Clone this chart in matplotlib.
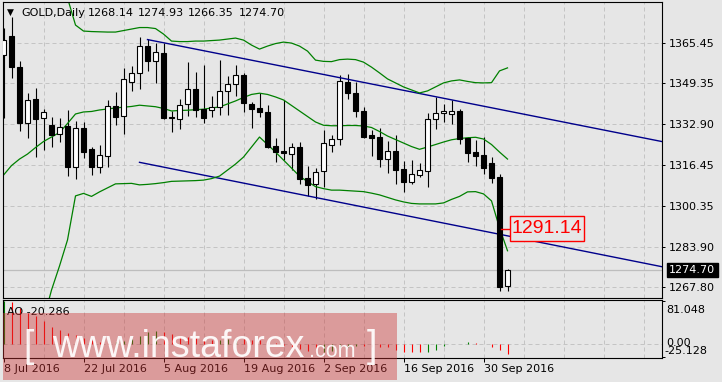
import numpy as np
import matplotlib
matplotlib.use('Agg')
import matplotlib.pyplot as plt
from matplotlib import font_manager
from matplotlib.patches import Rectangle
from matplotlib.transforms import blended_transform_factory

# ---------------- data ----------------
opens = [1360.5, 1368.1, 1355.6, 1333.5, 1342.9, 1335.5, 1332.6, 1328.9, 1332.2, 1315.9,
         1331.4, 1323.0, 1315.7, 1320.1, 1340.1, 1336.2, 1349.9, 1353.5, 1364.1, 1358.3,
         1361.5, 1335.8, 1335.1, 1340.9, 1346.9, 1338.9, 1338.6, 1339.7, 1346.1, 1349.0,
         1352.6, 1341.0, 1339.4, 1337.8, 1324.2, 1322.3, 1320.9, 1323.7, 1311.4, 1309.0,
         1314.1, 1324.5, 1326.9, 1349.8, 1345.4, 1338.2, 1328.5, 1327.7, 1319.1, 1322.2,
         1315.0, 1310.0, 1312.8, 1314.4, 1335.1, 1337.3, 1337.1, 1338.2, 1327.3, 1321.9,
         1320.6, 1317.4, 1311.8, 1268.14]
highs = [1371.3, 1375.8, 1358.1, 1345.5, 1347.3, 1339.0, 1335.7, 1335.3, 1338.6, 1334.3,
         1333.9, 1323.9, 1324.5, 1342.6, 1345.8, 1355.2, 1356.2, 1367.8, 1366.8, 1365.2,
         1365.2, 1338.2, 1342.9, 1357.7, 1353.8, 1356.7, 1344.2, 1358.5, 1352.2, 1356.4,
         1353.5, 1341.9, 1345.3, 1340.6, 1327.3, 1342.6, 1325.3, 1325.8, 1316.2, 1315.3,
         1330.6, 1328.6, 1352.7, 1353.0, 1349.8, 1339.9, 1330.6, 1331.4, 1326.2, 1328.6,
         1318.3, 1318.6, 1317.5, 1337.5, 1343.9, 1341.0, 1342.6, 1338.9, 1327.7, 1326.6,
         1327.9, 1319.7, 1312.9, 1274.93]
lows = [1335.4, 1351.2, 1330.3, 1327.5, 1319.9, 1322.6, 1323.7, 1325.8, 1312.4, 1310.9,
        1319.5, 1312.5, 1313.6, 1315.7, 1332.7, 1329.0, 1346.2, 1347.1, 1354.3, 1349.2,
        1334.9, 1329.9, 1330.9, 1336.2, 1335.9, 1333.5, 1335.9, 1336.6, 1336.5, 1344.2,
        1337.8, 1331.4, 1335.7, 1323.4, 1317.9, 1318.6, 1314.6, 1309.0, 1304.3, 1302.9,
        1307.7, 1321.9, 1324.7, 1342.9, 1335.7, 1327.3, 1320.2, 1315.7, 1313.6, 1309.0,
        1306.0, 1309.0, 1312.0, 1308.0, 1331.1, 1333.9, 1332.9, 1325.0, 1318.0, 1316.2,
        1313.0, 1309.3, 1266.5, 1266.35]
closes = [1366.5, 1355.6, 1333.5, 1342.5, 1335.0, 1337.8, 1328.7, 1331.9, 1315.9, 1331.4,
          1321.9, 1315.7, 1320.5, 1340.1, 1335.9, 1350.8, 1353.2, 1364.1, 1358.3, 1361.6,
          1335.4, 1335.3, 1340.7, 1346.9, 1338.6, 1335.5, 1339.7, 1346.1, 1349.0, 1352.6,
          1341.5, 1339.1, 1337.7, 1323.7, 1321.9, 1321.3, 1323.7, 1310.9, 1308.8, 1313.7,
          1325.3, 1326.9, 1350.0, 1345.3, 1338.3, 1327.9, 1327.5, 1318.9, 1322.2, 1314.6,
          1310.0, 1312.9, 1314.6, 1334.9, 1337.4, 1338.2, 1338.1, 1327.0, 1321.5, 1320.3,
          1315.6, 1311.6, 1268.05, 1274.70]

# Bollinger bands (20)
bb_middle = [1312.6, 1316.4, 1319.0, 1321.0, 1323.6, 1326.0, 1327.8, 1329.6, 1333.2, 1337.0,
             1337.8, 1338.0, 1338.6, 1339.0, 1339.4, 1339.7, 1340.0, 1340.5, 1340.2, 1339.9,
             1339.2, 1338.2, 1338.4, 1338.5, 1338.7, 1338.9, 1339.4, 1339.8, 1341.0, 1342.2,
             1343.6, 1344.8, 1345.3, 1344.8, 1343.8, 1342.6, 1340.4, 1338.2, 1336.0, 1333.8,
             1332.5, 1332.3, 1332.3, 1332.4, 1332.4, 1332.2, 1331.6, 1330.0, 1328.2, 1326.8,
             1325.4, 1324.0, 1322.9, 1323.8, 1324.8, 1325.8, 1326.7, 1327.2, 1327.5, 1327.7,
             1327.0, 1324.8, 1321.8, 1319.0]
bb_upper_start = 8
bb_upper = [1383.3, 1372.5, 1370.1, 1369.9, 1369.8, 1369.7, 1369.7, 1370.3, 1370.9, 1371.5,
            1371.5, 1371.1, 1368.9, 1366.1, 1365.9, 1365.9, 1366.1, 1366.1, 1366.3, 1366.5,
            1366.9, 1367.3, 1366.5, 1364.5, 1362.9, 1364.1, 1365.1, 1365.7, 1365.3, 1364.1,
            1362.1, 1358.5, 1358.0, 1357.9, 1358.7, 1358.9, 1358.7, 1357.7, 1355.7, 1353.4,
            1351.0, 1349.4, 1347.8, 1346.6, 1345.4, 1346.2, 1347.8, 1349.4, 1350.2, 1350.6,
            1350.0, 1349.5, 1349.4, 1349.5, 1354.2, 1355.4]
bb_lower_start = 5
bb_lower = [1254.8, 1266.7, 1276.3, 1286.7, 1304.3, 1305.3, 1304.1, 1305.9, 1307.5, 1309.1,
            1309.2, 1309.3, 1308.7, 1308.9, 1309.2, 1309.6, 1310.1, 1310.2, 1310.3, 1310.4,
            1310.6, 1311.2, 1312.2, 1314.6, 1317.0, 1319.8, 1323.8, 1327.8, 1324.8, 1321.8,
            1318.6, 1315.4, 1312.2, 1310.0, 1308.0, 1307.2, 1306.6, 1306.6, 1306.4, 1306.2,
            1306.0, 1305.4, 1304.7, 1303.7, 1302.7, 1301.9, 1301.3, 1301.1, 1301.1, 1301.1,
            1301.5, 1302.9, 1304.1, 1305.9, 1306.0, 1305.1, 1302.3, 1291.5, 1282.4]

# Channel (two anchor points each, drawn as rays to the right)
chan_upper = [(18, 1366.7), (80, 1327.45)]
chan_lower = [(17, 1317.7), (80, 1277.5)]

marker_level = 1291.14
marker_bar = 62

# Awesome Oscillator
ao_prev = 79.0
ao = [81.05, 78.5, 67.1, 58.8, 52.5, 43.0, 32.2, 26.0, 20.9, 16.5,
      11.4, 7.0, 3.8, 1.9, 3.8, 5.7, 9.5, 14.6, 22.0, 25.0,
      23.0, 19.0, 15.0, 12.0, 10.0, 8.0, 7.0, 7.5, 9.0, 10.5,
      9.5, 8.0, 6.5, 4.0, 1.0, -2.0, -6.0, -10.0, -14.0, -17.0,
      -16.0, -13.0, -9.0, -6.0, -5.0, -5.2, -5.5, -5.9, -6.5, -11.4,
      -15.2, -16.4, -16.6, -15.2, -11.4, -5.0, -1.3, -0.5, 2.5, 1.2,
      -1.3, -6.3, -12.6, -20.286]
ao_max_label, ao_min_label = 81.048, -25.128

price_ticks = [1365.45, 1349.35, 1332.90, 1316.45, 1300.35, 1283.90, 1267.80]
date_pos = [0, 10, 20, 30, 40, 50, 60]
date_labels = ['8 Jul 2016', '22 Jul 2016', '5 Aug 2016', '19 Aug 2016',
               '2 Sep 2016', '16 Sep 2016', '30 Sep 2016']
header = ['GOLD,Daily', '1268.14', '1274.93', '1266.35', '1274.70']

# ---------------- style ----------------
W, H = 722, 382
BG = '#e6e6e6'
GRID = '#c4c4c4'
DASH = (0, (4, 3))
plt.rcParams['font.family'] = ['DejaVu Sans']

names = {f.name for f in font_manager.fontManager.ttflist}
NARROW = 'Liberation Sans Narrow' in names
WM_FONT = 'Liberation Sans Narrow' if NARROW else 'Liberation Sans'

fig = plt.figure(figsize=(W / 100, H / 100), dpi=100, facecolor=BG)


def fx(px):
    return px / W


def fy(py):
    return 1 - py / H


X_LEFT, X_RIGHT = -0.0625, 82.31

# ---------------- main panel ----------------
ax = fig.add_axes([fx(3), fy(297.5), fx(662) - fx(3), fy(2) - fy(297.5)])
ax.set_facecolor(BG)
ax.set_xlim(X_LEFT, X_RIGHT)
ax.set_ylim(1263.74, 1381.70)

for g in range(5, 83, 5):
    ax.axvline(g, color=GRID, lw=0.72, ls=DASH, zorder=0.5)
for t in price_ticks:
    ax.axhline(t, color=GRID, lw=0.72, ls=DASH, zorder=0.5)
ax.axhline(closes[-1], color='#bdbdbd', lw=0.9, zorder=0.6)

idx = np.arange(len(opens))
o = np.array(opens); c = np.array(closes); h = np.array(highs); l = np.array(lows)
ax.vlines(idx, l, h, color='black', lw=0.8, zorder=2)
body_bottom = np.minimum(o, c)
body_h = np.maximum(np.abs(c - o), 0.35)
body_col = ['white' if cc >= oo else 'black' for oo, cc in zip(o, c)]
ax.bar(idx, body_h, bottom=body_bottom, width=0.52, color=body_col,
       edgecolor='black', linewidth=0.8, zorder=3)

green = '#008000'
ax.plot(idx, bb_middle, color=green, lw=0.9, zorder=2.5)
ax.plot(np.arange(bb_upper_start, bb_upper_start + len(bb_upper)), bb_upper,
        color=green, lw=0.9, zorder=2.5)
ax.plot(np.arange(bb_lower_start, bb_lower_start + len(bb_lower)), bb_lower,
        color=green, lw=0.9, zorder=2.5)

navy = '#00008b'
for (x0, p0), (x1, p1) in (chan_upper, chan_lower):
    xs = np.array([x0, X_RIGHT + 1])
    slope = (p1 - p0) / (x1 - x0)
    ax.plot(xs, p0 + slope * (xs - x0), color=navy, lw=1.0, zorder=2.4)

# price marker label
ax.plot([marker_bar + 0.15, marker_bar + 1.35], [marker_level, marker_level],
        color='red', lw=1.0, zorder=4)
ax.add_patch(Rectangle((marker_bar + 1.35, 1286.41), 9.17, 9.86, facecolor=BG,
                       edgecolor='red', lw=1.0, zorder=4))
ax.text(marker_bar + 1.35 + 9.17 / 2, 1291.3, '%.2f' % marker_level, color='red',
        fontsize=16.5 if NARROW else 14, family=WM_FONT, ha='center', va='center',
        zorder=5)

ax.set_xticks([])
ax.yaxis.tick_right()
ax.set_yticks(price_ticks)
ax.set_yticklabels(['%.2f' % t for t in price_ticks])
ax.tick_params(axis='y', length=2.2, width=0.72, pad=2.9, labelsize=8, colors='black')
for s in ax.spines.values():
    s.set_color('black'); s.set_linewidth(0.8)

trans = blended_transform_factory(ax.transAxes, ax.transData)
ax.text((669 - 3) / 659, closes[-1], '%.2f' % closes[-1], transform=trans,
        color='white', fontsize=8, va='center', ha='left',
        bbox=dict(boxstyle='square,pad=0.22', facecolor='black', edgecolor='black'))

# header
fig.text(fx(6.5), fy(12.5), '\u25bc', fontsize=6.5, va='center', ha='left')
for txt, px in zip(header, [21.5, 88.3, 138.3, 188.3, 238.7]):
    fig.text(fx(px), fy(12.7), txt, fontsize=8, va='center', ha='left')

# ---------------- AO panel ----------------
ax2 = fig.add_axes([fx(3), fy(358.3), fx(662) - fx(3), fy(300) - fy(358.3)])
ax2.set_facecolor(BG)
ax2.set_xlim(X_LEFT, X_RIGHT)
ax2.set_ylim(-27.6, 82.94)
for g in range(5, 83, 5):
    ax2.axvline(g, color=GRID, lw=0.72, ls=DASH, zorder=0.5)
ax2.axhline(0, color=GRID, lw=0.72, ls=DASH, zorder=0.5)
ao_arr = np.array(ao)
prev = np.concatenate([[ao_prev], ao_arr[:-1]])
ao_col = [green if v > p else '#ff0000' for v, p in zip(ao_arr, prev)]
ax2.vlines(idx, 0, ao_arr, colors=ao_col, lw=0.8, zorder=2)

ax2.set_xticks(date_pos)
ax2.set_xticklabels(date_labels, ha='left')
ax2.tick_params(axis='x', length=2.9, width=0.72, pad=1.2, labelsize=8)
ax2.yaxis.tick_right()
ax2.set_yticks([ao_max_label, ao_min_label])
ax2.set_yticklabels([])
ax2.tick_params(axis='y', length=2.2, width=0.72)
for s in ax2.spines.values():
    s.set_color('black'); s.set_linewidth(0.8)

fig.text(fx(7.3), fy(311.7), 'AO %.3f' % ao[-1], fontsize=8, va='center', ha='left')
fig.text(fx(666), fy(310), '%.3f' % ao_max_label, fontsize=8, va='center', ha='left')
fig.text(fx(666), fy(343), '0.00', fontsize=8, va='center', ha='left')
fig.text(fx(664), fy(351), '%.3f' % ao_min_label, fontsize=8, va='center', ha='left')

# ---------------- watermark ----------------
fig.patches.append(Rectangle((fx(3), fy(380)), fx(397) - fx(3), fy(313) - fy(380),
                             transform=fig.transFigure, facecolor='#cc3333',
                             alpha=0.42, edgecolor='none', zorder=5))
big = 33 if NARROW else 27
small = 18.5 if NARROW else 15.5
wm = dict(color='white', family=WM_FONT, va='baseline', ha='left', zorder=6, alpha=0.92)
fig.text(fx(23), fy(357), '[', fontsize=big, **wm)
fig.text(fx(52), fy(357), 'www.instaforex', fontsize=big, **wm)
fig.text(fx(309), fy(357), '.com', fontsize=small, **wm)
fig.text(fx(367), fy(357), ']', fontsize=big, **wm)

fig.savefig('out.png', dpi=100, facecolor=BG)
